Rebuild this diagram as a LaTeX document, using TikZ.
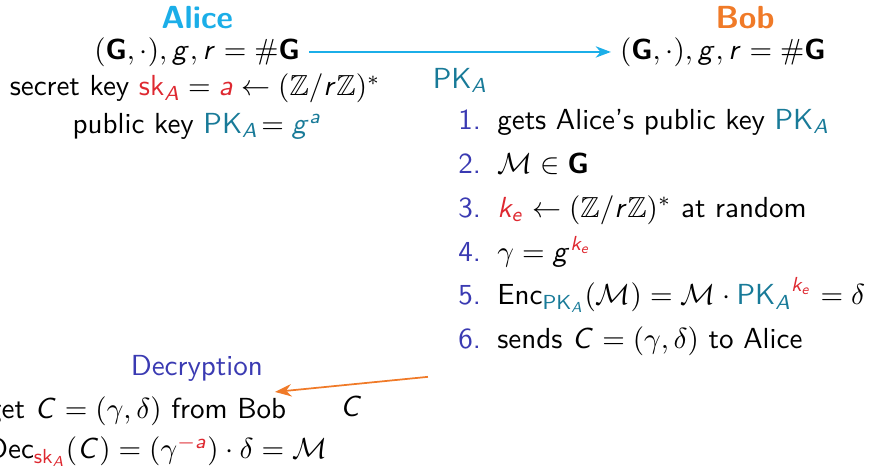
\documentclass[tikz,border=0pt]{standalone}
\usepackage{amsmath, amssymb}
\usepackage{xcolor}
\usepackage{tikz}
\usetikzlibrary{arrows.meta, positioning}

\renewcommand{\familydefault}{\sfdefault}
\DeclareSymbolFont{sfitletters}{OT1}{cmss}{m}{sl}
\DeclareMathSymbol{a}{\mathalpha}{sfitletters}{`a}
\DeclareMathSymbol{e}{\mathalpha}{sfitletters}{`e}
\DeclareMathSymbol{g}{\mathalpha}{sfitletters}{`g}
\DeclareMathSymbol{k}{\mathalpha}{sfitletters}{`k}
\DeclareMathSymbol{r}{\mathalpha}{sfitletters}{`r}
\DeclareMathSymbol{A}{\mathalpha}{sfitletters}{`A}
\DeclareMathSymbol{C}{\mathalpha}{sfitletters}{`C}

\definecolor{alicecol}{RGB}{27,174,232}
\definecolor{bobcol}{RGB}{240,122,40}
\definecolor{pkcol}{RGB}{24,122,152}
\definecolor{skcol}{RGB}{222,40,48}
\definecolor{numcol}{RGB}{58,58,178}

\newcommand{\grpG}{\textbf{G}}
\newcommand{\PKA}{{\color{pkcol}\mathsf{PK}_A}}
\newcommand{\skA}{{\color{skcol}\mathsf{sk}_A}}
\newcommand{\kE}{{\color{skcol}k_e}}
\newcommand{\inum}[1]{\makebox[13.4pt][l]{\color{numcol}#1}}

\begin{document}
\begin{tikzpicture}[x=1pt, y=1pt, >=Stealth, font=\fontsize{10}{12}\selectfont]
    \tikzstyle{who} = [font=\fontsize{11}{13}\selectfont\bfseries, anchor=base, inner sep=0pt]
    \tikzstyle{line} = [anchor=base, inner sep=3pt]
    \tikzstyle{item} = [anchor=base west, inner sep=0pt]
    \useasboundingbox (0,0) rectangle (300,-162.6);

    % Alice side
    \node [who, text=alicecol] (alice) at (67.9,-9.7) {Alice};
    \node [line] (aeq) at (67.9,-20.4) {$(\grpG,\cdot),g,r=\#\grpG$};
    \node [line] (asec) at (67.2,-33) {secret key $\skA=\color{skcol}a\color{black}\leftarrow(\mathbb{Z}/r\mathbb{Z})^*$};
    \node [line] (apub) at (67.9,-46) {public key $\PKA\!= {\color{pkcol}g^a}$};

    % Bob side
    \node [who, text=bobcol] (bob) at (256.6,-9.7) {Bob};
    \node [line] (beq) at (249,-20.4) {$(\grpG,\cdot),g,r=\#\grpG$};

    % Bob's steps
    \node [item] (i1) at (157.7,-44.5) {\inum{1.}gets Alice's public key $\PKA$};
    \node [item] (i2) at (157.7,-59.6) {\inum{2.}$\mathcal{M}\in\grpG$};
    \node [item] (i3) at (157.7,-74.8) {\inum{3.}$\kE\leftarrow(\mathbb{Z}/r\mathbb{Z})^*$ at random};
    \node [item] (i4) at (157.7,-89.9) {\inum{4.}$\gamma=g^{\kE}$};
    \node [item] (i5) at (157.7,-105.0) {\inum{5.}$\mathsf{Enc}_{\PKA}(\mathcal{M})=\mathcal{M}\cdot{\PKA}^{\kE}=\delta$};
    \node [item] (i6) at (157.7,-120.1) {\inum{6.}sends $C=(\gamma,\delta)$ to Alice};

    % Decryption on Alice's side
    \node [anchor=base, text=numcol] (dtitle) at (67.8,-129.5) {Decryption};
    \node [anchor=base east, inner sep=0pt] (dget) at (98.8,-144) {get $C=(\gamma,\delta)$ from Bob};
    \node [anchor=base east, inner sep=0pt] (ddec) at (112.9,-158) {$\mathsf{Dec}_{\skA}(C)=(\gamma^{\color{skcol}-a})\cdot\delta=\mathcal{M}$};

    \coordinate (cfrom) at (147.4,-129.8);
    \coordinate (cto) at (94.7,-135.0);

    % public key goes to Bob, ciphertext comes back
    \draw [->, draw=alicecol, line width=0.5pt] (aeq.east) -- node[below=2pt, text=pkcol] {$\PKA$} (beq.west);
    \draw [->, draw=bobcol, line width=0.6pt] (cfrom) -- node[below=0.5pt] {$C$} (cto);
\end{tikzpicture}
\end{document}
